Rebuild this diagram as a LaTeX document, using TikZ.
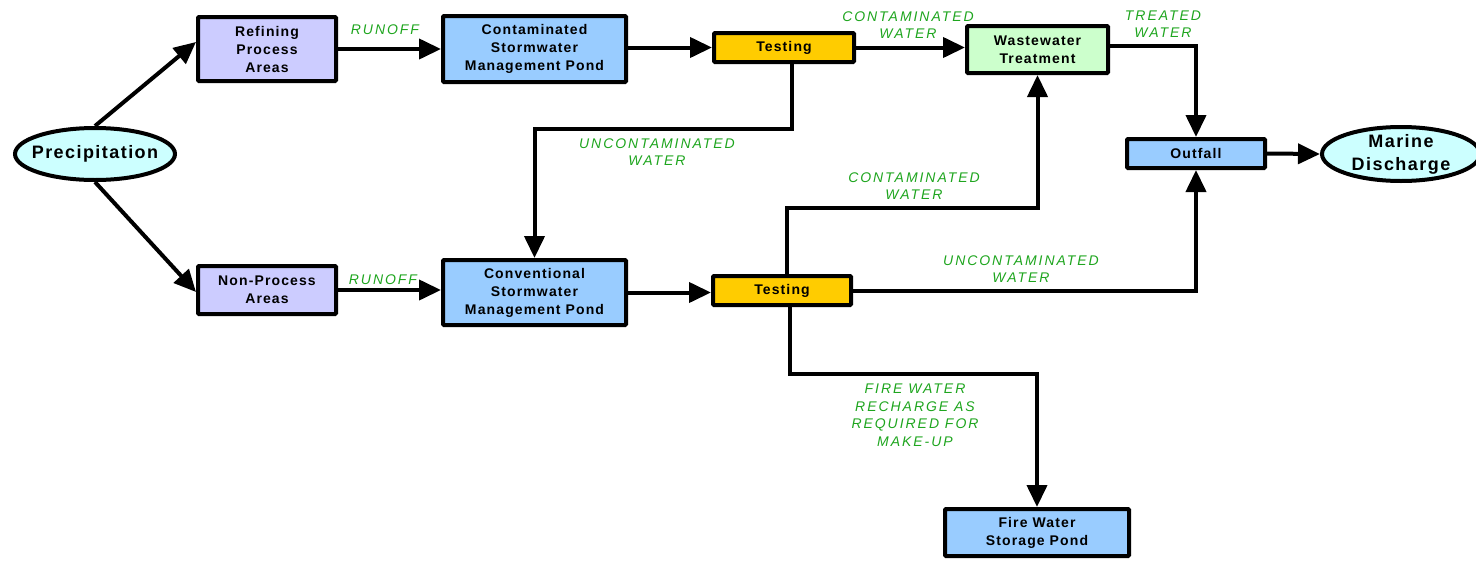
\documentclass[tikz,border=0pt]{standalone}
\usepackage{fontspec}
\setmainfont{Liberation Sans}
\newfontfamily\bxfont{Liberation Sans}[LetterSpace=8]
\newfontfamily\lbfont{Liberation Sans}[LetterSpace=14]
\usetikzlibrary{arrows.meta,shapes.geometric,calc}
\definecolor{lav}{HTML}{CCCCFF}
\definecolor{pond}{HTML}{99CCFF}
\definecolor{testc}{HTML}{FFCC00}
\definecolor{wwtc}{HTML}{CCFFCC}
\definecolor{ellc}{HTML}{CCFFFF}
\definecolor{lblc}{RGB}{30,165,30}
\tikzset{
  box/.style={draw=black, line width=4pt, rounded corners=1pt, align=center, inner sep=0pt,
    font=\bxfont\bfseries\fontsize{14}{18}\selectfont},
  oval/.style={ellipse, draw=black, line width=4pt, fill=ellc, inner sep=0pt},
  ovaltext/.style={align=center, inner sep=0pt, font=\bxfont\bfseries\fontsize{18}{23}\selectfont},
  conn/.style={line width=4pt, -{Triangle[length=22pt,width=20pt]}},
  lbl/.style={text=lblc, align=center, inner sep=0pt, font=\lbfont\itshape\fontsize{14}{17.5}\selectfont}
}
\begin{document}
\begin{tikzpicture}[x=1pt,y=-1pt]
\useasboundingbox (0,0) rectangle (1476,560);
% nodes
\node[oval, minimum width=160, minimum height=52, label={[ovaltext]center:Precipitation}] (prec) at (95,154) {};
\node[box, fill=lav, minimum width=138, minimum height=64] (ref) at (267,49) {Refining\\Process\\Areas};
\node[box, fill=pond, minimum width=183, minimum height=66] (ncont) at (534.5,49) {Contaminated\\Stormwater\\Management Pond};
\node[box, fill=testc, minimum width=140, minimum height=29] (test1) at (784,47.5) {Testing};
\node[box, fill=wwtc, minimum width=141, minimum height=47] (wwt) at (1037.5,49.5) {Wastewater\\Treatment};
\node[box, fill=pond, minimum width=138, minimum height=29] (outf) at (1196,153.5) {Outfall};
\node[oval, minimum width=158, minimum height=54, label={[ovaltext]center:Marine\\Discharge}] (marine) at (1401,154) {};
\node[box, fill=lav, minimum width=138, minimum height=48] (nonp) at (267,290) {Non-Process\\Areas};
\node[box, fill=pond, minimum width=183, minimum height=65] (conv) at (534.5,292.5) {Conventional\\Stormwater\\Management Pond};
\node[box, fill=testc, minimum width=138, minimum height=29] (test2) at (782,290.5) {Testing};
\node[box, fill=pond, minimum width=184, minimum height=47] (fire) at (1037,532.5) {Fire Water\\Storage Pond};
% labels
\node[lbl] (l1) at (385,30) {RUNOFF};
\node[lbl] (l2) at (383,280) {RUNOFF};
\node[lbl] (l3) at (908,25) {CONTAMINATED\\WATER};
\node[lbl] (l4) at (1163,24) {TREATED\\WATER};
\node[lbl] (l5) at (657,152) {UNCONTAMINATED\\WATER};
\node[lbl] (l6) at (914,186) {CONTAMINATED\\WATER};
\node[lbl] (l7) at (1021,269) {UNCONTAMINATED\\WATER};
\node[lbl] (l8) at (915,415) {FIRE WATER\\RECHARGE AS\\REQUIRED FOR\\MAKE-UP};
% connectors
\draw[conn] (prec.north) -- ($(ref.west)+(0,-7)$);
\draw[conn] (prec.south) -- ($(nonp.west)+(0,2)$);
\draw[conn] (ref.east) -- (ref.east -| ncont.west);
\draw[conn] (ncont.east |- test1.west) -- (test1.west);
\draw[conn] (test1.east) -- (test1.east -| wwt.west);
\draw[conn] ($(test1.south)+(8,0)$) -- ++(0,65) -| (conv.north);
\draw[conn] (nonp.east) -- (nonp.east -| conv.west);
\draw[conn] (conv.east) -- (conv.east -| test2.west);
\draw[conn] ($(test2.north)+(5,0)$) -- ++(0,-66) -| (wwt.south);
\draw[conn] (test2.east) -| (outf.south);
\draw[conn] ($(test2.south)+(8,0)$) -- ++(0,67) -| (fire.north);
\draw[conn] ($(wwt.east)+(0,-4)$) -| (outf.north);
\draw[conn] (outf.east) -- (marine.west);
\end{tikzpicture}
\end{document}
